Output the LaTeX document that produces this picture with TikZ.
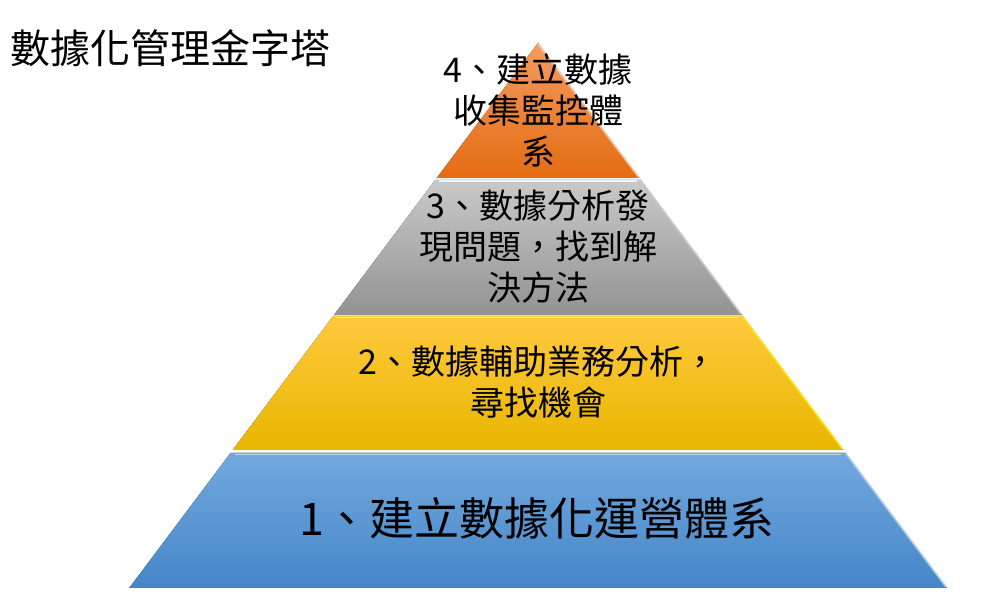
\documentclass[tikz,border=0pt]{standalone}
\usepackage{fontspec}
\setmainfont{Noto Sans CJK TC}
\usepackage{tikz}

\definecolor{orangetop}{HTML}{F39C62}
\definecolor{orangebot}{HTML}{E46C12}
\definecolor{graytop}{HTML}{C9C9C9}
\definecolor{graybot}{HTML}{939393}
\definecolor{yellowtop}{HTML}{FFC93E}
\definecolor{yellowbot}{HTML}{E8B600}
\definecolor{bluetop}{HTML}{72A9DE}
\definecolor{bluebot}{HTML}{4586C8}

\tikzset{
  label34/.style={align=center,font=\fontsize{34}{41}\selectfont},
  rim/.style={line width=1.6pt}
}

\begin{document}
\begin{tikzpicture}[x=1pt,y=-1pt]
	      \useasboundingbox (0,0) rectangle (1005,609);
	      % title
	      \node[anchor=west,inner sep=0pt,font=\fontsize{40}{40}\selectfont] (title) at (10,48) {數據化管理金字塔};
	      % layers, top to bottom
	      \fill[top color=orangetop,bottom color=orangebot] (538,43) -- (639.25,178) -- (436.75,178) -- cycle;
	      \fill[top color=graytop,bottom color=graybot] (435.25,180) -- (640.75,180) -- (742,315) -- (334,315) -- cycle;
	      \fill[top color=yellowtop,bottom color=yellowbot] (333.25,316) -- (742.75,316) -- (843.25,450) -- (232.75,450) -- cycle;
	      \fill[top color=bluetop,bottom color=bluebot] (230.5,453) -- (845.5,453) -- (946.75,588) -- (129.25,588) -- cycle;
	      % bevel highlights
	      \draw[rim,white!75!graytop] (439,181) -- (637,181);
	      \draw[rim,white!55!yellowtop] (337,317.5) -- (739,317.5);
	      \draw[rim,white!55!bluetop] (235,454.5) -- (841,454.5);
	      \draw[rim,white!40!orangetop] (538,44) -- (638.5,177);
	      \draw[rim,white!50!graybot] (641,181) -- (741,314);
	      \draw[rim,yellow!70!yellowtop] (743,317) -- (842.5,449);
	      \draw[rim,white!40!bluetop] (846,454) -- (946,587);
	      % texts
	      \node[label34] (step4) at (538,110) {4、建立數據\\收集監控體\\系};
	      \node[label34] (step3) at (538,247) {3、數據分析發\\現問題，找到解\\決方法};
	      \node[label34] (step2) at (538,382) {2、數據輔助業務分析，\\尋找機會};
	      \node[font=\fontsize{45}{45}\selectfont] (step1) at (537,518) {1、建立數據化運營體系};
	  \end{tikzpicture}
\end{document}
